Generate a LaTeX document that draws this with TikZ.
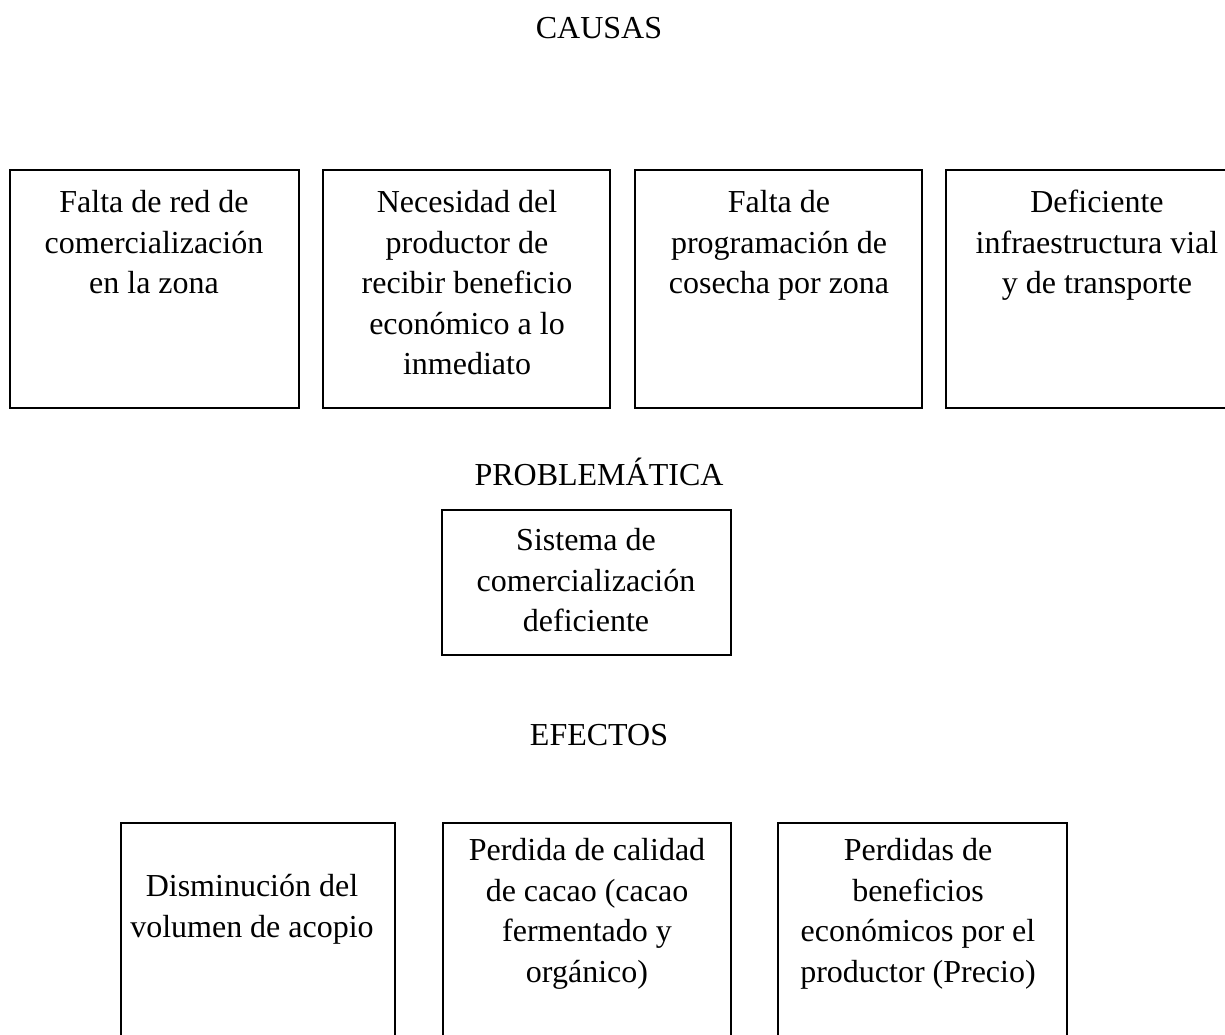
\documentclass[tikz,border=0pt]{standalone}
\usepackage{fontspec}
\setmainfont{Liberation Serif}
\usetikzlibrary{positioning}

\begin{document}
\begin{tikzpicture}[x=0.5pt,y=-0.5pt,
    caja/.style={line width=0.7pt},
    texto/.style={anchor=north, inner sep=0pt, align=center, font=\fontsize{16}{20.25}\selectfont},
    titulo/.style={anchor=base, inner sep=0pt, font=\fontsize{16}{20.25}\selectfont}]
            \useasboundingbox (0,0) rectangle (1225,1034);
            \clip (0,0) rectangle (1225,1034);

            \node[titulo] (causas) at (599,38) {CAUSAS};
            \node[titulo] (problematica) at (599,485) {PROBLEMÁTICA};
            \node[titulo] (efectos) at (599,745) {EFECTOS};

            % causas
            \draw[caja] (10,170) rectangle (299,408);
            \draw[caja] (323,170) rectangle (610,408);
            \draw[caja] (635,170) rectangle (922,408);
            \draw[caja] (946,170) rectangle (1240,408);

            \node[texto] (causa1) at (154,190) {Falta de red de\\comercialización\\en la zona};
            \node[texto] (causa2) at (467,190) {Necesidad del\\productor de\\recibir beneficio\\económico a lo\\inmediato};
            \node[texto] (causa3) at (779,190) {Falta de\\programación de\\cosecha por zona};
            \node[texto] (causa4) at (1097,190) {Deficiente\\infraestructura vial\\y de transporte};

            % problematica
            \draw[caja] (442,510) rectangle (731,655);
            \node[texto] (problema) at (586,528) {Sistema de\\comercialización\\deficiente};

            % efectos
            \draw[caja] (121,823) rectangle (395,1060);
            \draw[caja] (443,823) rectangle (731,1060);
            \draw[caja] (778,823) rectangle (1067,1060);

            \node[texto] (efecto1) at (252,874) {Disminución del\\volumen de acopio};
            \node[texto] (efecto2) at (587,838) {Perdida de calidad\\de cacao (cacao\\fermentado y\\orgánico)};
            \node[texto] (efecto3) at (918,838) {Perdidas de\\beneficios\\económicos por el\\productor (Precio)};

        \end{tikzpicture}
\end{document}
